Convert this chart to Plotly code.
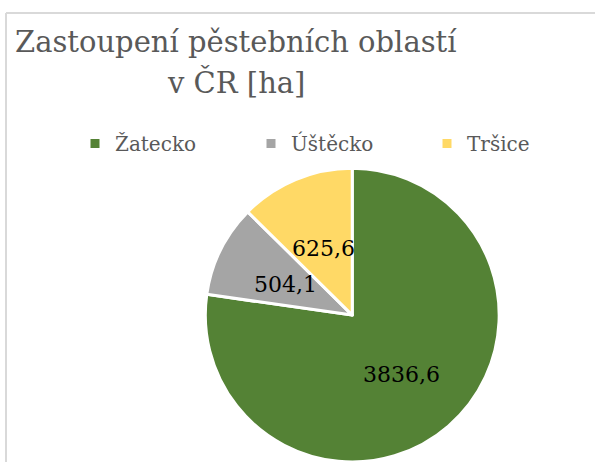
import math
import plotly.graph_objects as go

# hop growing regions in the Czech Republic, area in hectares
regions = ["Žatecko", "Úštěcko", "Tršice"]
area_ha = [3836.6, 504.1, 625.6]
colors = ["#548235", "#a5a5a5", "#ffd966"]
title_lines = ["Zastoupení pěstebních oblastí", "v ČR [ha]"]

W, H = 595, 462
PIE_X = [0.345, 0.839]
PIE_Y = [0.0, 0.636]
SERIF = "DejaVu Serif"
GREY_TEXT = "#595959"

fig = go.Figure()
fig.add_trace(go.Pie(
    labels=regions,
    values=area_ha,
    sort=False,
    direction="clockwise",
    rotation=0,
    marker=dict(colors=colors, line=dict(color="white", width=3)),
    textinfo="none",
    domain=dict(x=PIE_X, y=PIE_Y),
    hoverinfo="label+value+percent",
))

# value labels sit half way out along each slice's bisector, like Excel's "center" labels
cx = W * (PIE_X[0] + PIE_X[1]) / 2
cy = H * (1 - (PIE_Y[0] + PIE_Y[1]) / 2)
r = min(W * (PIE_X[1] - PIE_X[0]), H * (PIE_Y[1] - PIE_Y[0])) / 2
total = sum(area_ha)
start = 0.0
for v in area_ha:
    mid = math.radians((start + v / 2) / total * 360)
    start += v
    fig.add_annotation(
        text=f"{v:.1f}".replace(".", ","),
        xref="paper", yref="paper",
        x=(cx + 0.51 * r * math.sin(mid)) / W,
        y=1 - (cy - 0.51 * r * math.cos(mid)) / H,
        xanchor="center", yanchor="middle", showarrow=False, yshift=-3,
        font=dict(family=SERIF, size=22, color="black"),
    )

# title drawn as two centred lines (tighter spacing than plotly's <br>)
for i, line in enumerate(title_lines):
    fig.add_annotation(
        text=line, xref="paper", yref="paper",
        x=236 / W, y=1 - (42 + 40 * i) / H,
        xanchor="center", yanchor="middle",
        showarrow=False,
        font=dict(family=SERIF, size=29, color=GREY_TEXT),
    )

# light chart-area frame (only top and left edges are visible in the crop)
fig.add_shape(type="line", xref="paper", yref="paper",
              x0=6 / W, x1=1.01, y0=1 - 13 / H, y1=1 - 13 / H,
              line=dict(color="#d9d9d9", width=2))
fig.add_shape(type="line", xref="paper", yref="paper",
              x0=6 / W, x1=6 / W, y0=-0.01, y1=1 - 13 / H,
              line=dict(color="#d9d9d9", width=2))

fig.update_layout(
    width=W,
    height=H,
    margin=dict(l=0, r=0, t=0, b=0, autoexpand=False),
    paper_bgcolor="white",
    plot_bgcolor="white",
    showlegend=True,
    legend=dict(
        orientation="h",
        x=75 / W, xanchor="left",
        y=1 - 124 / H, yanchor="top",
        entrywidth=131, entrywidthmode="pixels",
        font=dict(family=SERIF, size=20, color=GREY_TEXT),
        bgcolor="rgba(0,0,0,0)",
    ),
)

fig.write_html("out.html", config={"displayModeBar": False},
               post_script="document.body.style.margin='0';")
